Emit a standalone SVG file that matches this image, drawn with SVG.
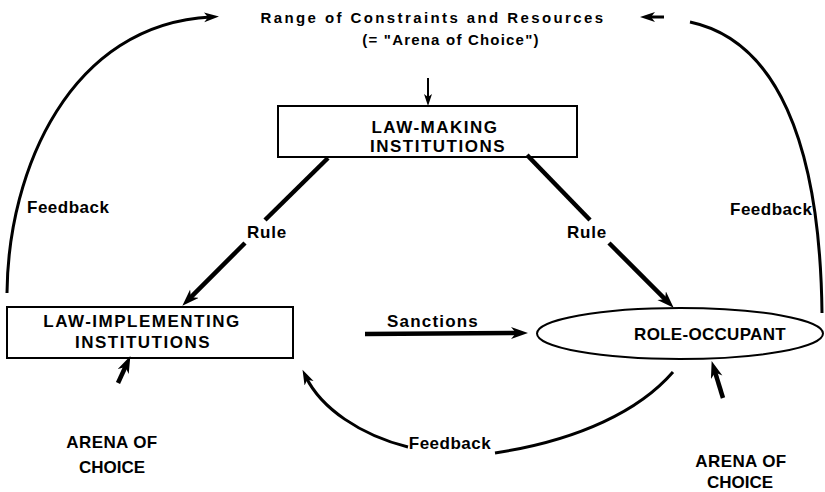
<svg xmlns="http://www.w3.org/2000/svg" width="825" height="492" viewBox="0 0 825 492">
<style>
text{font-family:"Liberation Sans",Arial,sans-serif;font-weight:bold;fill:#000;}
.lbl{font-size:17px;}
.box{font-size:17px;letter-spacing:1.5px;text-anchor:middle;}
.mid{text-anchor:middle;}
.shape{fill:#fff;stroke:#000;stroke-width:2;}
.thick{fill:none;stroke:#000;stroke-width:4.5;}
.med{fill:none;stroke:#000;stroke-width:3;}
.thin{fill:none;stroke:#000;stroke-width:2;}
</style>
<defs>
<marker id="big" markerUnits="userSpaceOnUse" markerWidth="18" markerHeight="14" refX="8" refY="6" orient="auto">
<path d="M0,0 L17,6 L0,12 L5,6 Z" fill="#000"/>
</marker>
<marker id="mid" markerUnits="userSpaceOnUse" markerWidth="16" markerHeight="12" refX="7" refY="5" orient="auto">
<path d="M0,0 L15,5 L0,10 L4,5 Z" fill="#000"/>
</marker>
<marker id="small" markerUnits="userSpaceOnUse" markerWidth="14" markerHeight="10" refX="5" refY="4" orient="auto">
<path d="M0,0 L12,4 L0,8 L3,4 Z" fill="#000"/>
</marker>
</defs>
<rect width="825" height="492" fill="#fff"/>

<g id="arena-top">
<text x="433" y="23" class="mid" style="font-size:15px;letter-spacing:2.4px">Range of Constraints and Resources</text>
<text x="451" y="45" class="mid" style="font-size:15px;letter-spacing:1.2px">(= "Arena of Choice")</text>
</g>

<g id="law-making">
<rect x="278" y="106" width="299" height="51" class="shape"/>
<text x="435" y="133" class="box">LAW-MAKING</text>
<text x="438" y="152" class="box">INSTITUTIONS</text>
</g>

<g id="law-implementing">
<rect x="7" y="307" width="286" height="51" class="shape"/>
<text x="142" y="327" class="box">LAW-IMPLEMENTING</text>
<text x="143" y="348" class="box">INSTITUTIONS</text>
</g>

<g id="role-occupant">
<ellipse cx="680" cy="333.5" rx="143" ry="25.5" class="shape" stroke-width="2.5"/>
<text x="710" y="340" class="lbl mid" style="letter-spacing:0.3px">ROLE-OCCUPANT</text>
</g>

<g id="arena-left">
<text x="112" y="448" class="lbl mid" style="letter-spacing:0.4px">ARENA OF</text>
<text x="112" y="473" class="lbl mid">CHOICE</text>
</g>

<g id="arena-right">
<text x="741" y="467" class="lbl mid" style="letter-spacing:0.4px">ARENA OF</text>
<text x="740" y="488" class="lbl mid">CHOICE</text>
</g>

<g id="connectors">
<path d="M7,293 C8,170 70,24 211,17" class="med" marker-end="url(#mid)"/>
<text x="27" y="213" class="lbl" style="letter-spacing:0.5px">Feedback</text>
<path d="M690,22 C775,40 820,140 822,313" class="med"/>
<path d="M664,17 L648,17" class="med" marker-end="url(#mid)"/>
<text x="730" y="215" class="lbl" style="letter-spacing:0.5px">Feedback</text>
<path d="M428,78 L428,99" class="thin" marker-end="url(#small)"/>
<path d="M328,158 L265,220" class="thick"/>
<path d="M245,243 L188.7,299.3" class="thick" marker-end="url(#big)"/>
<text x="267" y="238" class="lbl mid" style="letter-spacing:0.8px">Rule</text>
<path d="M527,155 L590,220" class="thick"/>
<path d="M609,243 L667.3,301.3" class="thick" marker-end="url(#big)"/>
<text x="587" y="238" class="lbl mid" style="letter-spacing:0.8px">Rule</text>
<path d="M365,334 L519,333" class="thick" marker-end="url(#big)"/>
<text x="433" y="327" class="lbl mid" style="letter-spacing:1.2px">Sanctions</text>
<path d="M118,383 L126.6,364.3" class="thick" marker-end="url(#big)"/>
<path d="M723,398 L714.3,369.7" class="thick" marker-end="url(#big)"/>
<path d="M673,372 C640,410 580,440 495,453" class="med"/>
<path d="M408,447 C360,435 321,408 306,377" class="med" marker-end="url(#mid)"/>
<text x="450" y="449" class="lbl mid" style="letter-spacing:0.5px">Feedback</text>
</g>
</svg>
